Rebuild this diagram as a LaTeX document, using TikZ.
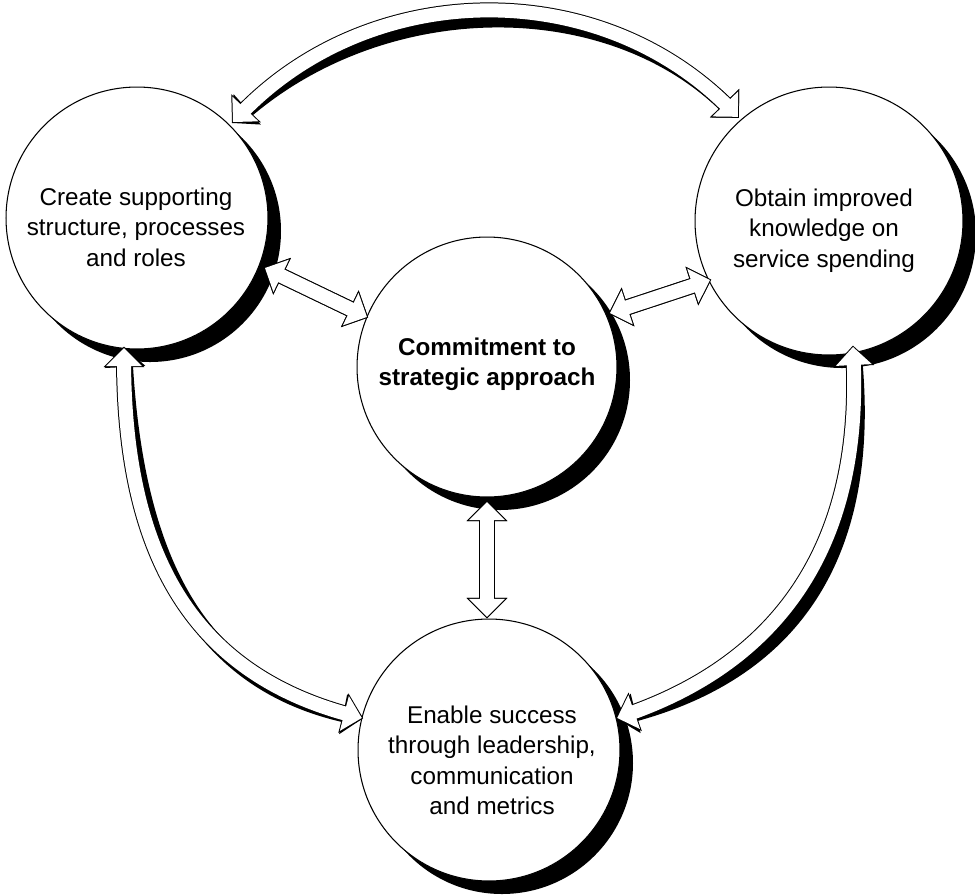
\documentclass[tikz,border=0pt]{standalone}
\usepackage{fontspec}
\setmainfont{Liberation Sans}
\usetikzlibrary{decorations.markings}
\tikzset{
  bubble/.style={circle, draw=black, line width=0.6pt, fill=white, inner sep=0pt},
  shaftout/.style={draw=black, line width=0.32cm, shorten <=0.18cm, shorten >=0.18cm},
  shaftin/.style={draw=white, line width=0.28cm, shorten <=0.18cm, shorten >=0.18cm},
  headsout/.style={decorate, decoration={markings,
     mark=at position 0 with {\filldraw[black, line width=0.04cm, line join=miter] (0,0) -- (18,18) -- (18,-18) -- cycle;},
     mark=at position 0.9995 with {\filldraw[black, line width=0.04cm, line join=miter] (0,0) -- (-18,18) -- (-18,-18) -- cycle;}}},
  headsin/.style={decorate, decoration={markings,
     mark=at position 0 with {\fill[white] (0,0) -- (18,18) -- (18,-18) -- cycle;},
     mark=at position 0.9995 with {\fill[white] (0,0) -- (-18,18) -- (-18,-18) -- cycle;}}},
  lbl/.style={align=center, inner sep=0pt, anchor=north, font=\fontsize{13.8}{17.1}\selectfont}
}
\newcommand\arrowshadow[1]{\begin{scope}[shift={(11,12)}]\path[shaftout] #1; \path[headsout] #1;\end{scope}}
\newcommand\arrowbody[1]{\path[shaftout] #1; \path[headsout] #1; \path[shaftin] #1; \path[headsin] #1;}
\begin{document}
\begin{tikzpicture}[x=0.02cm, y=-0.02cm]
\useasboundingbox (0,0) rectangle (975,894);
% circle centres
\coordinate (cL) at (137,218);
\coordinate (cR) at (829,221);
\coordinate (cC) at (487,367);
\coordinate (cB) at (489,750);
% arrow end points
\coordinate (a1s) at (233,122);
\coordinate (a1e) at (738,117);
\coordinate (a2s) at (265,268);
\coordinate (a2e) at (367,317);
\coordinate (a3s) at (610,313);
\coordinate (a3e) at (710,280);
\coordinate (a4s) at (487,502);
\coordinate (a4e) at (487,617);
\coordinate (a5s) at (124,348);
\coordinate (a5e) at (362,718);
\coordinate (a6s) at (853,347);
\coordinate (a6e) at (617,718);
% shadows
\fill[black] ([shift={(13,13)}]cL) circle[radius=131];
\fill[black] ([shift={(13,13)}]cR) circle[radius=134];
\fill[black] ([shift={(13,13)}]cC) circle[radius=130];
\fill[black] ([shift={(13,13)}]cB) circle[radius=131];
\arrowshadow{(a1s) .. controls (369.6,-22) and (599.9,-25.6) .. (a1e)}
\arrowshadow{(a2s) -- (a2e)}
\arrowshadow{(a3s) -- (a3e)}
\arrowshadow{(a4s) -- (a4e)}
\arrowshadow{(a5s) .. controls (124,548) and (187.4,673) .. (a5e)}
\arrowshadow{(a6s) .. controls (863,547) and (777.8,662.75) .. (a6e)}
% circles
\node[bubble, minimum size=5.24cm] (L) at (cL) {};
\node[bubble, minimum size=5.36cm] (R) at (cR) {};
\node[bubble, minimum size=5.20cm] (C) at (cC) {};
\node[bubble, minimum size=5.24cm] (B) at (cB) {};
% arrows
\arrowbody{(a1s) .. controls (369.6,-22) and (599.9,-25.6) .. (a1e)}
\arrowbody{(a2s) -- (a2e)}
\arrowbody{(a3s) -- (a3e)}
\arrowbody{(a4s) -- (a4e)}
\arrowbody{(a5s) .. controls (124,548) and (187.4,673) .. (a5e)}
\arrowbody{(a6s) .. controls (863,547) and (777.8,662.75) .. (a6e)}
% texts
\node[lbl] (tL) at (136,188) {Create supporting\\structure, processes\\and roles};
\node[lbl] (tR) at (824,189) {Obtain improved\\knowledge on\\service spending};
\node[lbl, font=\fontsize{13.8}{17.1}\selectfont\bfseries] (tC) at (487,338) {Commitment to\\strategic approach};
\node[lbl] (tB) at (492,706) {Enable success\\through leadership,\\communication\\and metrics};
\end{tikzpicture}
\end{document}
